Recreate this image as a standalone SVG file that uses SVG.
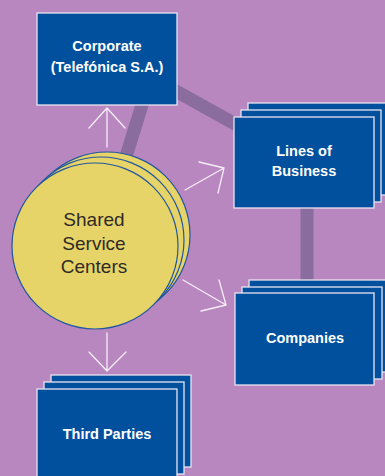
<svg xmlns="http://www.w3.org/2000/svg" width="385" height="476" viewBox="0 0 385 476">
<style>
.bg{fill:#b987bf}
.band{stroke:#8a6c9f;stroke-width:13;fill:none}
.arr{stroke:#f4eef6;stroke-width:1.3;fill:none;stroke-linecap:round;stroke-linejoin:round}
.box{fill:#00509e;stroke:#e8e4f0;stroke-width:1.3}
.circ{fill:#e7d469;stroke:#1f57a0;stroke-width:1.2}
.lbl{fill:#ffffff;font-family:"Liberation Sans",Arial,sans-serif;font-weight:bold;font-size:14.5px;text-anchor:middle}
.ssc{fill:#2f2a25;font-family:"Liberation Sans",Arial,sans-serif;font-size:19px;text-anchor:middle}
</style>
<rect class="bg" x="0" y="0" width="385" height="476"/>
<g id="connectors">
<line class="band" x1="146" y1="92" x2="120" y2="176"/>
<line class="band" x1="165" y1="85" x2="255" y2="135"/>
<line class="band" x1="307" y1="200" x2="307" y2="295"/>
<path class="arr" d="M107 147V108M89 128L107 108L125 128"/>
<path class="arr" d="M107 333V371M89 352L107 371L126 352"/>
<path class="arr" d="M185 190L224 168M199 162L224 168L218 193"/>
<path class="arr" d="M183 280L226 305M219 280L226 305L201 311"/>
</g>
<g id="shared-service-centers">
<circle class="circ" cx="107" cy="235" r="83"/>
<circle class="circ" cx="101" cy="240" r="83"/>
<circle class="circ" cx="95" cy="246" r="83"/>
<text class="ssc" x="94" y="226">Shared</text>
<text class="ssc" x="94" y="250">Service</text>
<text class="ssc" x="94" y="273">Centers</text>
</g>
<g id="corporate">
<rect class="box" x="37" y="13" width="140" height="92"/>
<text class="lbl" x="107" y="51">Corporate</text>
<text class="lbl" x="107" y="72">(Telefónica S.A.)</text>
</g>
<g id="lines-of-business">
<rect class="box" x="248" y="103" width="140" height="92"/>
<rect class="box" x="241" y="110" width="140" height="92"/>
<rect class="box" x="234" y="117" width="140" height="91"/>
<text class="lbl" x="304" y="156">Lines of</text>
<text class="lbl" x="304" y="176">Business</text>
</g>
<g id="companies">
<rect class="box" x="249" y="280" width="140" height="92"/>
<rect class="box" x="242" y="287" width="140" height="92"/>
<rect class="box" x="235" y="293" width="139" height="92"/>
<text class="lbl" x="305" y="343">Companies</text>
</g>
<g id="third-parties">
<rect class="box" x="51" y="375" width="140" height="92"/>
<rect class="box" x="44" y="382" width="140" height="92"/>
<rect class="box" x="37" y="389" width="140" height="92"/>
<text class="lbl" x="107" y="439">Third Parties</text>
</g>
</svg>
